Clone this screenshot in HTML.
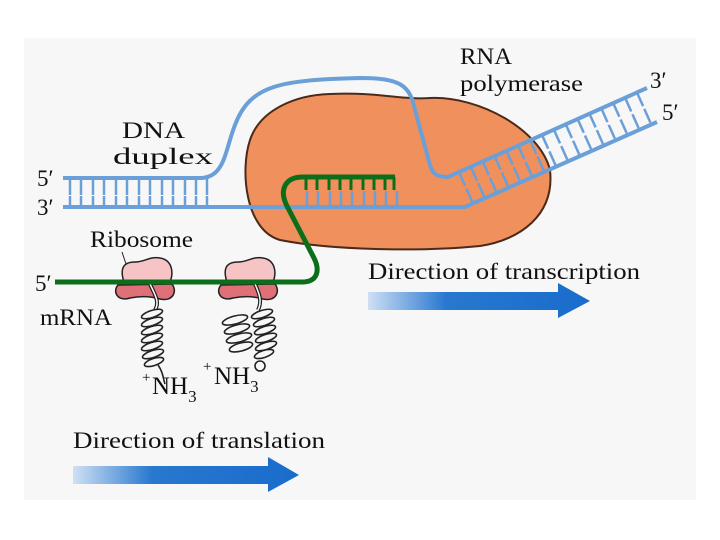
<!DOCTYPE html>
<html><head><meta charset="utf-8"><style>
html,body{margin:0;padding:0;background:#fff;}
svg{display:block;}
text{font-family:"Liberation Serif",serif;fill:#111;}
</style></head><body>
<svg width="720" height="540" viewBox="0 0 720 540" xmlns="http://www.w3.org/2000/svg">
<defs>
<linearGradient id="ga" x1="0" x2="1" y1="0" y2="0">
<stop offset="0" stop-color="#cfe0f4"/><stop offset="0.35" stop-color="#2878cf"/><stop offset="1" stop-color="#1a6ccc"/>
</linearGradient>
</defs>
<rect x="24" y="38" width="672" height="462" fill="#f7f7f7"/>
<path d="M330,94 C380,92 400,100 430,98 C480,96 540,130 550,170 C555,215 520,240 480,246 C420,252 330,250 280,240 C245,230 240,170 250,140 C260,110 295,95 330,94 Z" fill="#f0915d" stroke="#4a2a1a" stroke-width="2"/>
<g stroke="#6a9fd8" stroke-width="2.5">
<path d="M70,178v17M81,178v17M93,178v17M104,178v17M116,178v17M127,178v17M139,178v17M150,178v17M162,178v17M173,178v17M185,178v17M196,178v17M207,178v17"/>
<path d="M70,207v-11M81,207v-11M93,207v-11M104,207v-11M116,207v-11M127,207v-11M139,207v-11M150,207v-11M162,207v-11M173,207v-11M185,207v-11M196,207v-11M207,207v-11"/>
<path d="M307,207v-16M318,207v-16M330,207v-16M341,207v-16M352,207v-16M364,207v-16M375,207v-16M386,207v-16M397,207v-16"/>
</g>
<g stroke="#6a9fd8" stroke-width="2.5" transform="translate(448,177) rotate(-24.1)">
<path d="M12,0v15M25,0v15M38,0v15M51,0v15M64,0v15M77,0v15M90,0v15M103,0v15M116,0v15M129,0v15M142,0v15M155,0v15M168,0v15M181,0v15M194,0v15M207,0v15"/>
<path d="M12,33v-15M25,33v-15M38,33v-15M51,33v-15M64,33v-15M77,33v-15M90,33v-15M103,33v-15M116,33v-15M129,33v-15M142,33v-15M155,33v-15M168,33v-15M181,33v-15M194,33v-15M207,33v-15"/>
</g>
<path d="M63,178 H200 C225,178 225,150 235,125 C250,85 280,80 360,78 C400,78 410,85 415,110 L430,165 C433,175 438,177 448,177 L647,88" fill="none" stroke="#6a9fd8" stroke-width="4"/>
<path d="M63,207 H465 L657,122" fill="none" stroke="#6a9fd8" stroke-width="4"/>
<path d="M118,285 C112,292 118,302 130,298 C140,296 150,296 160,299 C172,302 178,292 172,284 Z" fill="#e07078" stroke="#222" stroke-width="1.5"/>
<path d="M221,285 C215,292 221,302 233,298 C243,296 253,296 263,299 C275,302 281,292 275,284 Z" fill="#e07078" stroke="#222" stroke-width="1.5"/>
<g fill="none" stroke="#222" stroke-width="1.6">
<path d="M150,284 C155,295 160,302 155,310" stroke-width="4"/>
<path d="M150,284 C155,295 160,302 155,310" stroke="#fff" stroke-width="1.5"/>
<g fill="#f7f7f7">
<ellipse cx="152" cy="314" rx="11" ry="3.5" transform="rotate(-18 152 314)"/>
<ellipse cx="152" cy="322" rx="11" ry="3.5" transform="rotate(-18 152 322)"/>
<ellipse cx="152" cy="330" rx="11" ry="3.5" transform="rotate(-18 152 330)"/>
<ellipse cx="152" cy="338" rx="11" ry="3.5" transform="rotate(-18 152 338)"/>
<ellipse cx="152" cy="346" rx="11" ry="3.5" transform="rotate(-18 152 346)"/>
<ellipse cx="153" cy="354" rx="11" ry="3.5" transform="rotate(-18 153 354)"/>
<ellipse cx="154" cy="362" rx="10" ry="3.5" transform="rotate(-18 154 362)"/>
</g>
<path d="M158,365 C163,372 163,378 165,384"/>
<path d="M255,284 C260,295 262,302 258,310" stroke-width="4"/>
<path d="M255,284 C260,295 262,302 258,310" stroke="#fff" stroke-width="1.5"/>
<g fill="#f7f7f7">
<ellipse cx="235" cy="320" rx="13" ry="4" transform="rotate(-15 235 320)"/>
<ellipse cx="237" cy="329" rx="13" ry="4" transform="rotate(-15 237 329)"/>
<ellipse cx="239" cy="338" rx="13" ry="4" transform="rotate(-15 239 338)"/>
<ellipse cx="241" cy="347" rx="12" ry="4" transform="rotate(-15 241 347)"/>
<ellipse cx="262" cy="314" rx="11" ry="3.5" transform="rotate(-18 262 314)"/>
<ellipse cx="264" cy="322" rx="11" ry="3.5" transform="rotate(-18 264 322)"/>
<ellipse cx="265" cy="330" rx="11" ry="3.5" transform="rotate(-18 265 330)"/>
<ellipse cx="266" cy="338" rx="11" ry="3.5" transform="rotate(-18 266 338)"/>
<ellipse cx="266" cy="346" rx="11" ry="3.5" transform="rotate(-18 266 346)"/>
<ellipse cx="264" cy="354" rx="10" ry="3.5" transform="rotate(-18 264 354)"/>
<circle cx="260" cy="366" r="5"/>
</g>
</g>
<path d="M124,282 C120,270 122,262 135,262 C145,262 150,256 160,258 C172,260 174,272 170,282 Z" fill="#f6c4c4" stroke="#222" stroke-width="1.5"/>
<path d="M227,282 C223,270 225,262 238,262 C248,262 253,256 263,258 C275,260 277,272 273,282 Z" fill="#f6c4c4" stroke="#222" stroke-width="1.5"/>
<line x1="122" y1="252" x2="126" y2="264" stroke="#222" stroke-width="1"/>
<path d="M55,282 H302 C318,282 320,270 314,258 L288,208 C278,190 285,177 303,177 H395" fill="none" stroke="#0d6e1a" stroke-width="5"/>
<path d="M306,177v13M317,177v13M329,177v13M340,177v13M351,177v13M363,177v13M374,177v13M385,177v13M394,177v13" stroke="#0d6e1a" stroke-width="3"/>
<path d="M368,292 H558 V283 L590,301 L558,318 V310 H368 Z" fill="url(#ga)"/>
<path d="M73,466 H268 V457 L299,475 L268,492 V484 H73 Z" fill="url(#ga)"/>
<g font-size="23">
<text x="122" y="138" textLength="63" lengthAdjust="spacingAndGlyphs">DNA</text>
<text x="113" y="164" textLength="100" lengthAdjust="spacingAndGlyphs">duplex</text>
<text x="460" y="64" textLength="52" lengthAdjust="spacingAndGlyphs">RNA</text>
<text x="460" y="91" textLength="123" lengthAdjust="spacingAndGlyphs">polymerase</text>
<text x="37" y="186">5′</text>
<text x="37" y="215">3′</text>
<text x="650" y="88">3′</text>
<text x="662" y="120">5′</text>
<text x="35" y="291">5′</text>
<text x="90" y="247" textLength="103" lengthAdjust="spacingAndGlyphs">Ribosome</text>
<text x="40" y="325" textLength="72" lengthAdjust="spacingAndGlyphs">mRNA</text>
<text x="368" y="279" textLength="272" lengthAdjust="spacingAndGlyphs">Direction of transcription</text>
<text x="73" y="448" textLength="252" lengthAdjust="spacingAndGlyphs">Direction of translation</text>
</g>
<g font-size="25">
<text x="152" y="394">NH<tspan font-size="17" dy="8">3</tspan></text>
<text x="214" y="384">NH<tspan font-size="17" dy="8">3</tspan></text>
</g>
<text x="142" y="382" font-size="15">+</text>
<text x="203" y="371" font-size="15">+</text>
</svg>
</body></html>
